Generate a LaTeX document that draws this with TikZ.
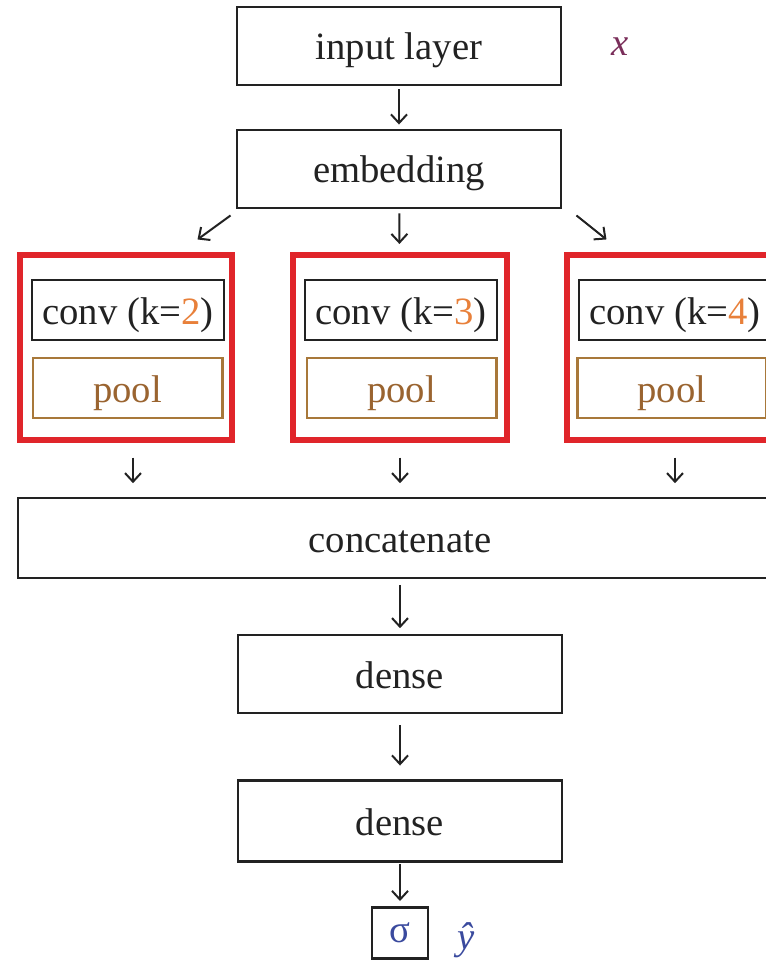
\documentclass[tikz,border=0pt]{standalone}
\usepackage{fontspec}
\setmainfont{Liberation Serif}
\usetikzlibrary{arrows.meta,calc}
\definecolor{boxred}{HTML}{E0252A}
\definecolor{poolbrown}{HTML}{A8783A}
\definecolor{pooltext}{HTML}{9A6430}
\definecolor{kcol}{HTML}{E8803A}
\definecolor{xcol}{HTML}{7A2E5A}
\definecolor{outblue}{HTML}{3A4A9E}
\definecolor{ink}{HTML}{222222}
\begin{document}
\begin{tikzpicture}[x=0.75pt,y=-0.75pt,
  every node/.style={font=\fontsize{29}{34}\selectfont, text=ink, inner sep=0pt},
  boxtext/.style={text height=24pt, text depth=3pt},
  layer/.style={boxtext, draw=ink, line width=2.2pt, rectangle, minimum width=243pt, minimum height=58.5pt},
  redbox/.style={draw=boxred, line width=4.5pt, rectangle, minimum width=159pt, minimum height=138.75pt},
  convbox/.style={boxtext, draw=ink, line width=2.2pt, rectangle, minimum width=144pt, minimum height=45pt},
  poolbox/.style={boxtext, draw=poolbrown, line width=2pt, rectangle, minimum width=142pt, minimum height=45pt, text=pooltext},
  arr/.style={draw=ink, line width=1.5pt, -{Straight Barb[length=6.5pt,width=12pt,line width=1.5pt]}}
]
\useasboundingbox (0,0) rectangle (766,962);
\clip (0,0) rectangle (766,962);

% main column
\node[layer] (inp) at (399,46) {input layer};
\node[text=xcol, font=\fontsize{29}{34}\selectfont\itshape] (xin) at (620,47) {x};
\node[layer] (emb) at (399,169) {embedding};

% convolution branches
\node[redbox] (r1) at (126,347.5) {};
\node[redbox, minimum width=161pt] (r2) at (400,347.5) {};
\node[redbox] (r3) at (673,347.5) {};

\node[convbox] (c1) at (128,310) {conv (k=\textcolor{kcol}{2})};
\node[convbox] (c2) at (401,310) {conv (k=\textcolor{kcol}{3})};
\node[convbox] (c3) at (675,310) {conv (k=\textcolor{kcol}{4})};

\node[poolbox] (p1) at (127.5,388) {pool};
\node[poolbox] (p2) at (401.5,388) {pool};
\node[poolbox] (p3) at (672,388) {pool};

\node[layer, minimum width=573pt, minimum height=60pt] (cat) at (400,538) {concatenate};
\node[layer] (d1) at (400,674) {dense};
\node[layer, minimum height=61pt] (d2) at (400,821) {dense};
\node[draw=ink, line width=2pt, rectangle, minimum width=42pt, minimum height=38pt, text=outblue] (sig) at (400,933) {σ};
\node[text=outblue, font=\fontsize{29}{34}\selectfont\itshape] (yhat) at (466,940) {ŷ};

% connectors
\draw[arr, shorten <=2pt, shorten >=3pt] (inp) -- (emb);
\draw[arr] ($(emb.south west)+(-5,6)$) -- ($(emb.south west)+(-38,30)$);
\draw[arr, shorten <=3pt, shorten >=6pt] (emb) -- (r2);
\draw[arr] ($(emb.south east)+(14,6)$) -- ($(emb.south east)+(44,30)$);

\draw[arr, shorten <=11pt, shorten >=10pt] (r1.south -| 133,0) -- (cat.north -| 133,0);
\draw[arr, shorten <=11pt, shorten >=10pt] (r2.south) -- (cat.north -| r2.south);
\draw[arr, shorten <=11pt, shorten >=10pt] (r3.south -| 675,0) -- (cat.north -| 675,0);

\draw[arr, shorten <=4pt, shorten >=4pt] (cat) -- (d1);
\draw[arr, shorten <=8pt, shorten >=10pt] (d1) -- (d2);
\draw[arr, shorten <=1pt, shorten >=4pt] (d2) -- (sig);
\end{tikzpicture}
\end{document}
